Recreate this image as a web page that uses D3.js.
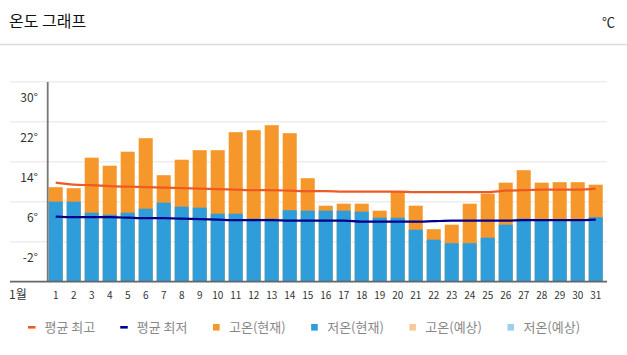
<!DOCTYPE html>
<html><head><meta charset="utf-8">
<script src="https://cdn.jsdelivr.net/npm/d3@7"></script>
<style>
html,body{margin:0;padding:0;background:#fff;}
svg{display:block;font-family:"Noto Sans CJK KR","Noto Sans",sans-serif;}
</style></head>
<body>
<svg id="c" width="627" height="355"></svg>
<script>
const days = d3.range(1, 32).map(String);
const highNow = [12.9,12.7,18.8,17.2,20,22.7,15.3,18.4,20.3,20.3,23.9,24.3,25.3,23.7,14.7,9.2,9.6,9.6,8.2,12.1,9.2,4.5,5.4,9.6,11.6,13.8,16.3,13.8,13.9,13.9,13.4];
const lowNow = [10,10,7.8,7.4,7.8,8.6,9.8,9,8.8,7.6,7.6,6.6,6.6,8.3,8.2,8.2,8.2,8,6.8,6.8,4.4,2.4,1.7,1.7,2.8,5.4,6.6,6.3,6.1,6.1,6.9];
const avgMax = [13.8,13.4,13.3,13.1,13.0,12.9,12.8,12.7,12.6,12.5,12.4,12.3,12.3,12.2,12.1,12.1,12.0,12.0,12.0,12.0,11.9,11.9,11.9,11.9,11.9,12.2,12.3,12.4,12.4,12.4,12.6];
const avgMin = [7.0,6.9,6.9,6.9,6.8,6.7,6.7,6.6,6.5,6.4,6.3,6.3,6.3,6.2,6.2,6.2,6.2,6.0,6.0,6.0,6.0,6.1,6.2,6.2,6.2,6.2,6.3,6.3,6.3,6.3,6.4];
const gridValues = [-6, 2, 10, 18, 26, 34];
const tickValues = [30, 22, 14, 6, -2];
const tickLabels = ["30°", "22°", "14°", "6°", "-2°"];
const monthLabel = "1월";
const titleText = "온도 그래프";
const unitText = "℃";
const legendNames = ["평균 최고", "평균 최저", "고온(현재)", "저온(현재)", "고온(예상)", "저온(예상)"];

const C = {max:"#ee5a24", min:"#00008b", high:"#f5972a", low:"#2e9dd9", highF:"#fcc79a", lowF:"#9dd0ee"};
const legendColors = [C.max, C.min, C.high, C.low, C.highF, C.lowF];
const legendKinds = ["dash","dash","sq","sq","sq","sq"];

const svg = d3.select("#c");
svg.append("text").attr("x", 9).attr("y", 27).attr("font-size", 16).attr("fill", "#111").text(titleText);
svg.append("text").attr("x", 615).attr("y", 27).attr("text-anchor", "end").attr("font-size", 13).attr("fill", "#222").text(unitText);
svg.append("line").attr("x1", 0).attr("x2", 627).attr("y1", 44.5).attr("y2", 44.5).attr("stroke", "#dcdcdc").attr("stroke-width", 1.5);

const x = d3.scaleBand().domain(days).range([48.7, 606.7]).paddingInner(0.22).paddingOuter(0.11).align(0);
const y = d3.scaleLinear().domain([-6, 34]).range([281.7, 81.7]);

// gridlines
svg.append("g").selectAll("line").data(gridValues.slice(1)).join("line")
  .attr("x1", 10).attr("x2", 607).attr("y1", d => y(d)).attr("y2", d => y(d))
  .attr("stroke", "#eeeeee").attr("stroke-width", 1.6);

// y labels
svg.append("g").selectAll("text").data(tickValues).join("text")
  .attr("x", 38).attr("y", d => y(d)).attr("text-anchor", "end")
  .attr("font-size", 12).attr("fill", "#333").text((d, i) => tickLabels[i]);

// bars
const bars = svg.append("g");
bars.selectAll("rect.h").data(days).join("rect").attr("class", "h")
  .attr("x", d => x(d)).attr("width", x.bandwidth())
  .attr("y", (d, i) => y(highNow[i])).attr("height", (d, i) => y(-6) - y(highNow[i]))
  .attr("fill", C.high);
bars.selectAll("rect.l").data(days).join("rect").attr("class", "l")
  .attr("x", d => x(d)).attr("width", x.bandwidth())
  .attr("y", (d, i) => y(lowNow[i])).attr("height", (d, i) => y(-6) - y(lowNow[i]))
  .attr("fill", C.low);

// lines
const line = d3.line().x((d, i) => x(days[i]) + x.bandwidth() / 2).y(d => y(d)).curve(d3.curveMonotoneX);
svg.append("path").datum(avgMax).attr("d", line).attr("fill", "none").attr("stroke", C.max).attr("stroke-width", 2.2);
svg.append("path").datum(avgMin).attr("d", line).attr("fill", "none").attr("stroke", C.min).attr("stroke-width", 2.2);

// axes
svg.append("line").attr("x1", 47.7).attr("x2", 47.7).attr("y1", 82).attr("y2", 282).attr("stroke", "#777").attr("stroke-width", 1.8);
svg.append("line").attr("x1", 10).attr("x2", 607).attr("y1", 281.7).attr("y2", 281.7).attr("stroke", "#666").attr("stroke-width", 1.8);

// x labels
svg.append("g").selectAll("text").data(days).join("text")
  .attr("x", d => x(d) + x.bandwidth() / 2).attr("y", 298.5).attr("text-anchor", "middle")
  .attr("font-size", 10).attr("fill", "#333").text(d => d);
svg.append("text").attr("x", 9).attr("y", 299).attr("font-size", 12).attr("fill", "#333").text(monthLabel);

// legend
const lg = svg.append("g");
let lx = 28;
legendNames.forEach((name, i) => {
  const g = lg.append("g");
  if (legendKinds[i] === "dash") {
    g.append("rect").attr("x", lx).attr("y", 326).attr("width", 7.5).attr("height", 2.6).attr("fill", legendColors[i]);
  } else {
    g.append("rect").attr("x", lx + 0.5).attr("y", 324).attr("width", 6.6).attr("height", 6.6).attr("fill", legendColors[i]);
  }
  const t = g.append("text").attr("x", lx + 16.5).attr("y", 332).attr("font-size", 13).attr("fill", "#888").text(name);
  const w = t.node().getComputedTextLength();
  lx += 16.5 + w + 25;
});
</script>
</body></html>
